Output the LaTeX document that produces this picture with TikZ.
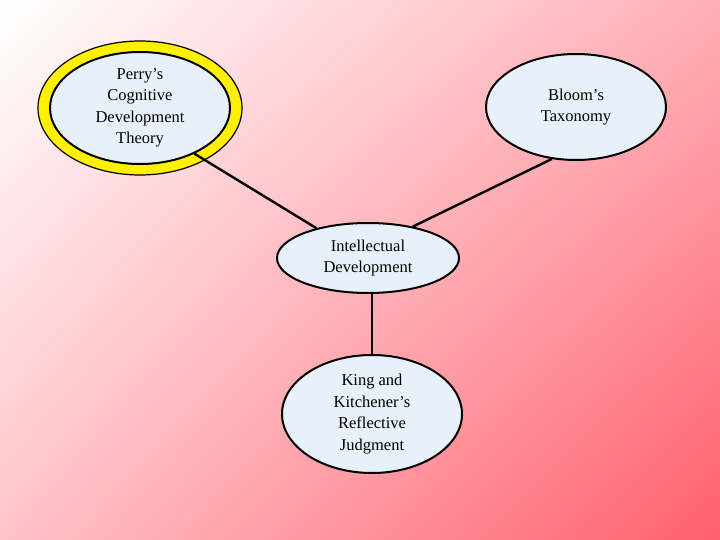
\documentclass[tikz,border=0pt]{standalone}
\usepackage{fontspec}
\setmainfont{Liberation Serif}
\usetikzlibrary{shapes.geometric,shadings}
\definecolor{bub}{RGB}{232,240,250}
\definecolor{ring}{RGB}{255,240,0}
\definecolor{cur}{RGB}{255,175,182}
\definecolor{cll}{RGB}{255,195,200}
\definecolor{clr}{RGB}{255,95,110}
\begin{document}
\begin{tikzpicture}[x=1pt,y=-1pt,
  bub/.style={ellipse,draw=black,line width=2pt,fill=bub,inner sep=0pt,font=\fontsize{16.5}{21.5}\selectfont,align=center},
  con/.style={line width=2.4pt}]
\shade[upper left=white,upper right=cur,lower left=cll,lower right=clr] (0,0) rectangle (720,540);
\useasboundingbox (0,0) rectangle (720,540);
\node[ellipse,draw=black,line width=1.2pt,fill=ring,minimum width=204,minimum height=134] (ring) at (140,108) {};
\node[bub,minimum width=180,minimum height=112] (perry) at (140,108) {Perry’s\\Cognitive\\Development\\Theory};
\node[bub,minimum width=180,minimum height=106] (bloom) at (576,107) {Bloom’s\\Taxonomy};
\node[bub,minimum width=182,minimum height=70] (intel) at (368,258) {Intellectual\\Development};
\node[bub,minimum width=180,minimum height=118] (king) at (372,414) {King and\\Kitchener’s\\Reflective\\Judgment};
\draw[con] (perry.-40) -- (intel.150);
\draw[con] (bloom.-115) -- (intel.35);
\draw[con] (intel.south -| king.north) -- (king.north);
\end{tikzpicture}
\end{document}
